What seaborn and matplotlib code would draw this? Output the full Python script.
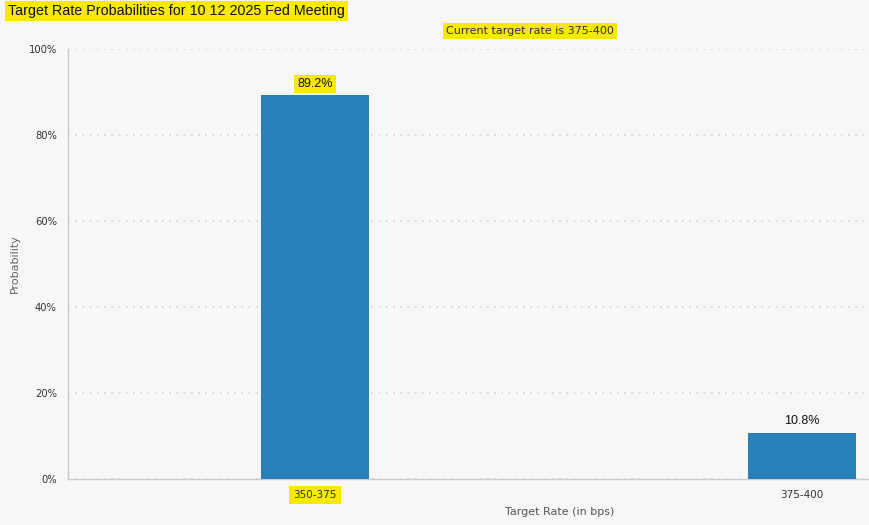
import matplotlib
matplotlib.use("Agg")
import matplotlib.pyplot as plt
import seaborn as sns
import pandas as pd
from matplotlib.ticker import PercentFormatter

# ── Data ─────────────────────────────────────────────────────────────────────
target_rates = ["350-375", "375-400"]
probabilities = [89.2, 10.8]
current_rate = "375-400"
meeting_label = "10 12 2025"

df = pd.DataFrame({"rate": target_rates, "prob": probabilities})

# ── Style ────────────────────────────────────────────────────────────────────
bg = "#f7f7f7"
bar_color = "#2980b9"
highlight = "#f7e900"
sns.set_theme(style="white")
plt.rcParams["font.family"] = ["DejaVu Sans"]

fig = plt.figure(figsize=(8.7, 5.25), dpi=100, facecolor=bg)
ax = fig.add_axes([68 / 870, 46 / 525, 800 / 870, 430 / 525])
ax.set_facecolor(bg)

sns.barplot(data=df, x="rate", y="prob", color=bar_color, width=0.222,
            saturation=1, linewidth=0, ax=ax, zorder=3)

# the original chart is wider than the screenshot, so the right side is cut off
ax.set_xlim(-0.507, 1.1355)
ax.set_ylim(0, 100)
ax.set_yticks(range(0, 101, 20))
ax.yaxis.set_major_formatter(PercentFormatter(decimals=0))
ax.grid(axis="y", color="#d8d8d8", linestyle=(0, (1, 3)), linewidth=1.3, zorder=0)

for side in ["top", "right"]:
    ax.spines[side].set_visible(False)
for side in ["left", "bottom"]:
    ax.spines[side].set_color("#cccccc")
    ax.spines[side].set_linewidth(1)

ax.tick_params(axis="both", which="major", length=5, width=1, color="#cccccc",
               labelcolor="#333333", labelsize=7.2)
ax.tick_params(axis="x", labelsize=7.5, pad=3)
ax.tick_params(axis="y", pad=3)

ax.set_xlabel("Target Rate (in bps)", fontsize=8, color="#555555", labelpad=5)
ax.xaxis.set_label_coords(0.614, -0.065)
ax.set_ylabel("Probability", fontsize=8, color="#666666", labelpad=6)

# value labels
for i, p in enumerate(probabilities):
    kw = {}
    if i == 0:
        kw["bbox"] = dict(boxstyle="square,pad=0.25", fc=highlight, ec="none")
    ax.text(i, p + 1.2, f"{p:.1f}%", ha="center", va="bottom", fontsize=9,
            family="Liberation Sans", color="#111111", zorder=4, **kw)

# highlight first tick label
ax.get_xticklabels()[0].set_bbox(dict(boxstyle="square,pad=0.4", fc=highlight, ec="none"))

fig.text(8 / 870, 1 - 11 / 525, f"Target Rate Probabilities for {meeting_label} Fed Meeting",
         ha="left", va="center", fontsize=10.3, family="Liberation Sans", color="#111111",
         bbox=dict(boxstyle="square,pad=0.2", fc=highlight, ec="none"))
fig.text(530 / 870, 1 - 31 / 525, f"Current target rate is {current_rate}",
         ha="center", va="center", fontsize=8, color="#333333",
         bbox=dict(boxstyle="square,pad=0.25", fc=highlight, ec="none"))

fig.savefig("out.png", dpi=100, facecolor=bg)
